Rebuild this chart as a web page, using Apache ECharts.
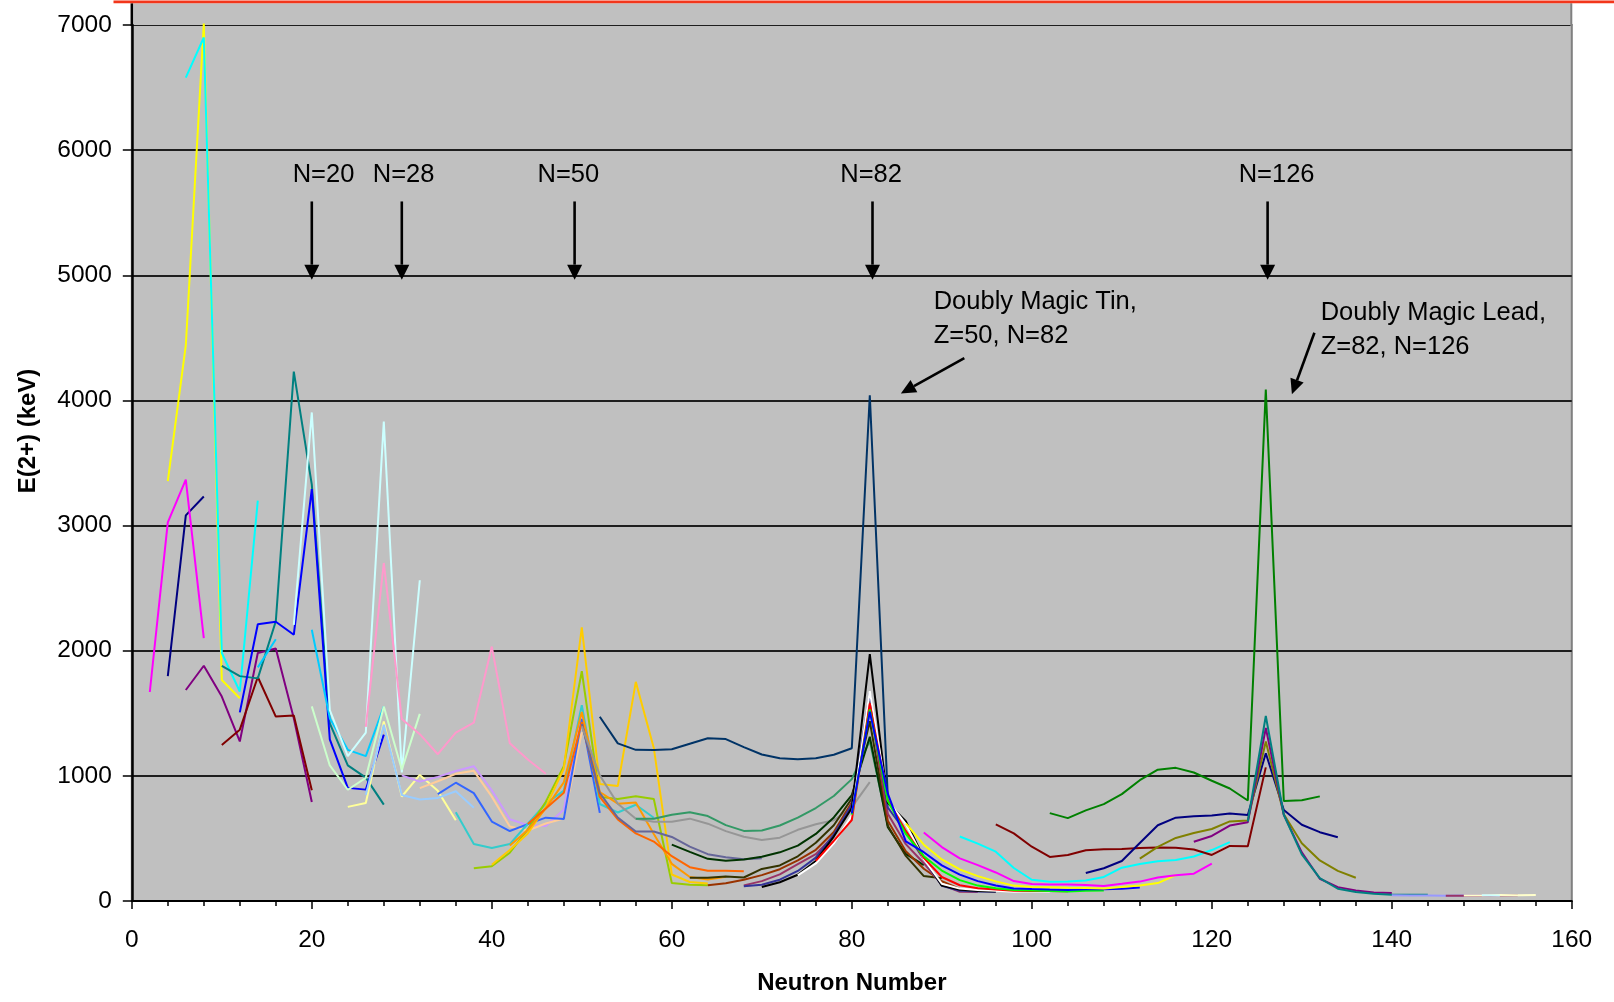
<!DOCTYPE html>
<html>
<head>
<meta charset="utf-8">
<title>E(2+) systematics vs neutron number</title>
<script src="https://cdn.jsdelivr.net/npm/echarts@6/dist/echarts.min.js"></script>
<style>
  html, body { margin: 0; padding: 0; background: #ffffff; }
  #chart { width: 1614px; height: 1002px; }
</style>
</head>
<body>
<div id="chart"></div>
<script>
// Energy of the first 2+ state of even-even nuclei.
// One line per element; each point is [neutron number N, E(2+) in keV].
const He = [[4,1797],[6,3081],[8,3232]];
const Be = [[2,1670],[4,3025],[6,3368],[8,2101]];
const C  = [[4,3355],[6,4439],[8,7012],[10,1766],[12,1620]];
const O  = [[6,6580],[8,6900],[10,1982],[12,1674],[14,3199]];
const Ne = [[6,1686],[8,1880],[10,1634],[12,1275],[14,1982],[16,2018],[18,1460],[20,791]];
const Mg = [[10,1247],[12,1369],[14,1790],[16,1474],[18,1483],[20,885]];
const Si = [[10,1879],[12,1797],[14,1779],[16,2235],[18,4230],[20,3327],[22,1420],[24,1084],[26,986],[28,770]];
const S  = [[12,1507],[14,2211],[16,2231],[18,2128],[20,3291],[22,1292],[24,904],[26,890],[28,1329]];
const Ar = [[14,1867],[16,2091],[18,null],[20,2168],[22,1461],[24,1208],[26,1158],[28,1554]];
const Ca = [[18,2206],[20,3904],[22,1525],[24,1157],[26,1346],[28,3832],[30,1027],[32,2563]];
const Ti = [[20,1555],[22,1083],[24,889],[26,984],[28,1554],[30,1050],[32,1495]];
const Cr = [[24,752],[26,783],[28,1434],[30,835],[32,1007],[34,880],[36,646]];
const Fe = [[26,849],[28,1408],[30,847],[32,811],[34,824],[36,877],[38,746]];
const Ni = [[26,1392],[28,2701],[30,1454],[32,1333],[34,1173],[36,1346],[38,1425],[40,2033],[42,1260],[44,1130],[46,1017]];
const Zn = [[30,1004],[32,954],[34,992],[36,1039],[38,1077],[40,885],[42,653],[44,606],[46,599],[48,730],[50,1492]];
const Ge = [[32,902],[34,957],[36,1016],[38,1040],[40,834],[42,596],[44,563],[46,619],[48,659],[50,1348]];
const Se = [[34,854],[36,945],[38,862],[40,635],[42,559],[44,614],[46,666],[48,655],[50,1455],[52,704]];
const Kr = [[36,710],[38,456],[40,424],[42,455],[44,617],[46,777],[48,882],[50,1565],[52,775],[54,707],[56,769],[58,665]];
const Sr = [[38,261],[40,278],[42,386],[44,573],[46,793],[48,1077],[50,1836],[52,832],[54,815],[56,837],[58,815],[60,144],[62,129],[64,126]];
const Zr = [[40,290],[42,407],[44,540],[46,752],[48,1057],[50,2186],[52,935],[54,919],[56,1751],[58,1223],[60,212],[62,152],[64,140]];
const Mo = [[42,444],[44,567],[46,740],[48,948],[50,1510],[52,871],[54,778],[56,787],[58,536],[60,297],[62,192],[64,172],[66,193]];
const Ru = [[44,616],[46,739],[48,865],[50,1431],[52,833],[54,652],[56,540],[58,475],[60,358],[62,270],[64,242],[66,241],[68,237]];
const Pd = [[50,1415],[52,863],[54,666],[56,556],[58,556],[60,512],[62,434],[64,374],[66,349],[68,333],[70,341]];
const Cd = [[50,1395],[52,1004],[54,777],[56,658],[58,633],[60,633],[62,658],[64,618],[66,558],[68,513],[70,488],[72,506],[74,569],[76,613],[78,645],[80,750],[82,950]];
const Sn = [[52,1472],[54,1260],[56,1208],[58,1206],[60,1212],[62,1257],[64,1300],[66,1294],[68,1230],[70,1171],[72,1141],[74,1132],[76,1141],[78,1169],[80,1221],[82,4041],[84,830]];
const Te = [[56,657],[58,657],[60,689],[62,709],[64,679],[66,606],[68,560],[70,564],[72,603],[74,666],[76,743],[78,839],[80,974],[82,1279],[84,607]];
const Xe = [[60,450],[62,393],[64,337],[66,322],[68,331],[70,354],[72,389],[74,443],[76,536],[78,668],[80,847],[82,1313],[84,589],[86,377],[88,287]];
const Ba = [[62,185],[64,185],[66,196],[68,188],[70,256],[72,284],[74,357],[76,465],[78,605],[80,819],[82,1436],[84,602],[86,360],[88,199],[90,181]];
const Ce = [[64,125],[66,142],[68,170],[70,207],[72,254],[74,325],[76,409],[78,552],[80,789],[82,1596],[84,641],[86,397],[88,258],[90,158],[92,97]];
const Nd = [[68,125],[70,159],[72,213],[74,294],[76,374],[78,521],[80,774],[82,1576],[84,697],[86,454],[88,302],[90,130],[92,73],[94,71]];
const Sm = [[68,118],[70,130],[72,170],[74,240],[76,347],[78,531],[80,768],[82,1660],[84,747],[86,550],[88,334],[90,122],[92,82],[94,76],[96,73]];
const Gd = [[70,112],[72,150],[74,210],[76,320],[78,515],[80,743],[82,1972],[84,784],[86,638],[88,344],[90,123],[92,89],[94,80],[96,75]];
const Dy = [[74,205],[76,300],[78,460],[80,683],[82,1677],[84,804],[86,614],[88,335],[90,138],[92,99],[94,87],[96,81],[98,73],[100,77],[102,75]];
const Er = [[76,320],[78,480],[80,646],[82,1579],[84,808],[86,560],[88,345],[90,192],[92,126],[94,102],[96,91],[98,81],[100,80],[102,79],[104,77]];
const Yb = [[80,690],[82,1531],[84,800],[86,536],[88,358],[90,243],[92,167],[94,123],[96,102],[98,88],[100,84],[102,79],[104,76],[106,82],[108,84]];
const Hf = [[80,700],[82,1513],[84,858],[86,477],[88,390],[90,285],[92,211],[94,159],[96,124],[98,100],[100,95],[102,91],[104,88],[106,93],[108,93],[110,98],[112,107]];
const W  = [[86,620],[88,450],[90,332],[92,252],[94,199],[96,157],[98,123],[100,112],[102,109],[104,106],[106,104],[108,100],[110,111],[112,123],[114,143],[116,207]];
const Os = [[88,548],[90,431],[92,341],[94,287],[96,228],[98,159],[100,135],[102,132],[104,132],[106,127],[108,120],[110,137],[112,155],[114,187],[116,206],[118,218],[120,299]];
const Pt = [[92,515],[94,458],[96,394],[98,264],[100,170],[102,153],[104,155],[106,163],[108,192],[110,266],[112,296],[114,317],[116,328],[118,356],[120,407],[122,470]];
const Hg = [[96,613],[98,540],[100,434],[102,352],[104,367],[106,405],[108,413],[110,416],[112,423],[114,428],[116,426],[118,412],[120,368],[122,440],[124,437],[126,1068]];
const Pb = [[102,702],[104,662],[106,724],[108,774],[110,854],[112,965],[114,1049],[116,1064],[118,1027],[120,961],[122,899],[124,803],[126,4086],[128,800],[130,805],[132,836]];
const Po = [[106,224],[108,262],[110,320],[112,463],[114,605],[116,666],[118,677],[120,684],[122,700],[124,687],[126,1181],[128,727],[130,609],[132,550],[134,509]];
const Rn = [[112,339],[114,433],[116,504],[118,543],[120,575],[122,636],[124,644],[126,1274],[128,694],[130,461],[132,324],[134,241],[136,186]];
const Ra = [[118,474],[120,520],[122,603],[124,629],[126,1382],[128,688],[130,389],[132,178],[134,111],[136,84],[138,68],[140,64]];
const Th = [[124,635],[126,1478],[128,689],[130,373],[132,183],[134,98],[136,72],[138,58],[140,50],[142,50],[144,50]];
const Cm = [[140,45],[142,44],[144,43],[146,42],[148,43],[150,43],[152,43]];
const Cf = [[146,42],[148,42],[150,41],[152,43],[154,46]];
const Fm = [[148,44],[150,44],[152,47],[154,45],[156,48]];
const No = [[150,46],[152,44]];

const elements = ['He','Be','C','O','Ne','Mg','Si','S','Ar','Ca','Ti','Cr','Fe','Ni','Zn','Ge','Se','Kr','Sr','Zr',
  'Mo','Ru','Pd','Cd','Sn','Te','Xe','Ba','Ce','Nd','Sm','Gd','Dy','Er','Yb','Hf','W','Os','Pt','Hg',
  'Pb','Po','Rn','Ra','Th','Cm','Cf','Fm','No'];
const elementData = [He,Be,C,O,Ne,Mg,Si,S,Ar,Ca,Ti,Cr,Fe,Ni,Zn,Ge,Se,Kr,Sr,Zr,
  Mo,Ru,Pd,Cd,Sn,Te,Xe,Ba,Ce,Nd,Sm,Gd,Dy,Er,Yb,Hf,W,Os,Pt,Hg,
  Pb,Po,Rn,Ra,Th,Cm,Cf,Fm,No];
const elementColors = ['#000080','#FF00FF','#FFFF00','#00FFFF','#800080','#800000','#008080','#0000FF','#00CCFF','#CCFFFF',
  '#CCFFCC','#FFFF99','#99CCFF','#FF99CC','#CC99FF','#FFCC99','#3366FF','#33CCCC','#99CC00','#FFCC00',
  '#FF9900','#FF6600','#666699','#969696','#003366','#339966','#003300','#333300','#993300','#993366',
  '#333399','#000000','#FFFFFF','#FF0000','#00FF00','#0000FF','#FFFF00','#FF00FF','#00FFFF','#800000',
  '#008000','#000080','#808000','#800080','#008080','#9999FF','#993366','#FFFFCC','#CCFFFF'];

// Shell closures marked with arrows, and the two doubly magic notes
const magicLabels = ['N=20','N=28','N=50','N=82','N=126'];
const tinNote = ['Doubly Magic Tin,','Z=50, N=82'];
const leadNote = ['Doubly Magic Lead,','Z=82, N=126'];

// Layout (data-space anchors for the annotation arrows and texts)
const layout = {
  magicArrowN: [20, 30, 49.2, 82.3, 126.2],
  magicLabelN: [21.3, 30.2, 48.5, 82.15, 127.2],
  magicLabelE: 5800, magicArrowTopE: 5590, magicArrowTipE: 4965,
  tinText: [89.1, 4790], tinArrow: [[92.5, 4338], [85.45, 4055]],
  leadText: [132.1, 4695], leadArrow: [[131.4, 4541], [128.9, 4049]],
  noteLineGap: 34
};

const FONT = '"Liberation Sans", Arial, Helvetica, sans-serif';
const GRID = { left: 131.8, right: 42.2, top: 25, bottom: 101 };

const chart = echarts.init(document.getElementById('chart'), null, { renderer: 'canvas' });

const option = {
  animation: false,
  backgroundColor: '#ffffff',
  grid: {
    left: GRID.left, right: GRID.right, top: GRID.top, bottom: GRID.bottom,
    show: true, backgroundColor: '#C0C0C0', borderColor: '#808080', borderWidth: 2
  },
  xAxis: {
    type: 'value', min: 0, max: 160, interval: 20,
    axisLine: { show: true, onZero: false, lineStyle: { color: '#000', width: 2 } },
    axisTick: { show: true, length: 8, lineStyle: { color: '#000', width: 1.5 } },
    minorTick: { show: true, splitNumber: 5, length: 5, lineStyle: { color: '#000', width: 1.5 } },
    axisLabel: { color: '#000', fontSize: 24.5, fontFamily: FONT, margin: 27, formatter: v => String(v) },
    splitLine: { show: false }
  },
  yAxis: {
    type: 'value', min: 0, max: 7000, interval: 1000,
    axisLine: { show: true, lineStyle: { color: '#000', width: 2.5 } },
    axisTick: { show: true, length: 9, lineStyle: { color: '#000', width: 1.5 } },
    axisLabel: { color: '#000', fontSize: 24.5, fontFamily: FONT, margin: 20, formatter: v => String(v) },
    splitLine: { show: true, lineStyle: { color: '#1e1e1e', width: 1.8 } }
  },
  series: elementData.map((d, i) => ({
    type: 'line',
    name: elements[i],
    data: d,
    symbol: 'none',
    showSymbol: false,
    connectNulls: false,
    clip: false,
    silent: true,
    z: 2,
    lineStyle: { color: elementColors[i], width: 2 },
    itemStyle: { color: elementColors[i] }
  }))
};

chart.setOption(option);

const toPx = (n, e) => chart.convertToPixel({ gridIndex: 0 }, [n, e]);

function arrowShapes(from, to, headLen, headW) {
  const dx = to[0] - from[0], dy = to[1] - from[1];
  const len = Math.hypot(dx, dy);
  const ux = dx / len, uy = dy / len;
  const bx = to[0] - ux * headLen, by = to[1] - uy * headLen;
  const nx = -uy, ny = ux;
  return [
    { type: 'line', z: 100, silent: true,
      shape: { x1: from[0], y1: from[1], x2: bx, y2: by },
      style: { stroke: '#000', lineWidth: 2.6 } },
    { type: 'polygon', z: 100, silent: true,
      shape: { points: [[to[0], to[1]], [bx + nx * headW / 2, by + ny * headW / 2], [bx - nx * headW / 2, by - ny * headW / 2]] },
      style: { fill: '#000' } }
  ];
}

function textEl(str, x, y, opts) {
  return Object.assign({
    type: 'text', z: 100, silent: true, x: x, y: y,
    style: {
      text: str, fill: '#000', font: '25.5px ' + FONT,
      textAlign: 'left', textVerticalAlign: 'middle', align: 'left', verticalAlign: 'middle'
    }
  }, opts || {});
}

const graphics = [];
const gTop = toPx(0, 7000)[1];
const gLeft = toPx(0, 0)[0];
const gRight = toPx(160, 0)[0];

// plot area continues a little above the 7000 line, with the frame and a red rule on top
graphics.push({ type: 'rect', z: 0, silent: true, shape: { x: gLeft, y: 3.3, width: gRight - gLeft, height: gTop - 3.3 }, style: { fill: '#C0C0C0' } });
graphics.push({ type: 'line', z: 50, silent: true, shape: { x1: gLeft, y1: 3.3, x2: gLeft, y2: gTop + 1 }, style: { stroke: '#000', lineWidth: 2.5 } });
graphics.push({ type: 'line', z: 50, silent: true, shape: { x1: gRight - 0.5, y1: 3.3, x2: gRight - 0.5, y2: gTop + 1 }, style: { stroke: '#808080', lineWidth: 2 } });
graphics.push({ type: 'rect', z: 60, silent: true, shape: { x: 113.5, y: 0.6, width: 1614 - 113.5, height: 2.6 }, style: { fill: '#F2361B' } });

// shell-closure arrows
magicLabels.forEach((lab, i) => {
  const c = toPx(layout.magicLabelN[i], layout.magicLabelE);
  graphics.push(textEl(lab, c[0], c[1], {
    style: { text: lab, fill: '#000', font: '25.5px ' + FONT, textAlign: 'center', textVerticalAlign: 'middle', align: 'center', verticalAlign: 'middle' }
  }));
  const a = toPx(layout.magicArrowN[i], layout.magicArrowTopE);
  const b = toPx(layout.magicArrowN[i], layout.magicArrowTipE);
  arrowShapes(a, b, 15, 15).forEach(g => graphics.push(g));
});

// doubly magic notes
function note(lines, anchor, arrow) {
  const p = toPx(anchor[0], anchor[1]);
  lines.forEach((ln, k) => graphics.push(textEl(ln, p[0], p[1] + k * layout.noteLineGap)));
  arrowShapes(toPx(arrow[0][0], arrow[0][1]), toPx(arrow[1][0], arrow[1][1]), 15, 14).forEach(g => graphics.push(g));
}
note(tinNote, layout.tinText, layout.tinArrow);
note(leadNote, layout.leadText, layout.leadArrow);

// axis titles
graphics.push({
  type: 'text', z: 100, silent: true, x: (gLeft + gRight) / 2, y: 983,
  style: { text: 'Neutron Number', fill: '#000', font: 'bold 24px ' + FONT, textAlign: 'center', textVerticalAlign: 'middle', align: 'center', verticalAlign: 'middle' }
});
graphics.push({
  type: 'text', z: 100, silent: true, x: 28, y: 431, rotation: Math.PI / 2,
  style: { text: 'E(2+) (keV)', fill: '#000', font: 'bold 24px ' + FONT, textAlign: 'center', textVerticalAlign: 'middle', align: 'center', verticalAlign: 'middle' }
});

chart.setOption({ graphic: { elements: graphics } });
</script>
</body>
</html>
